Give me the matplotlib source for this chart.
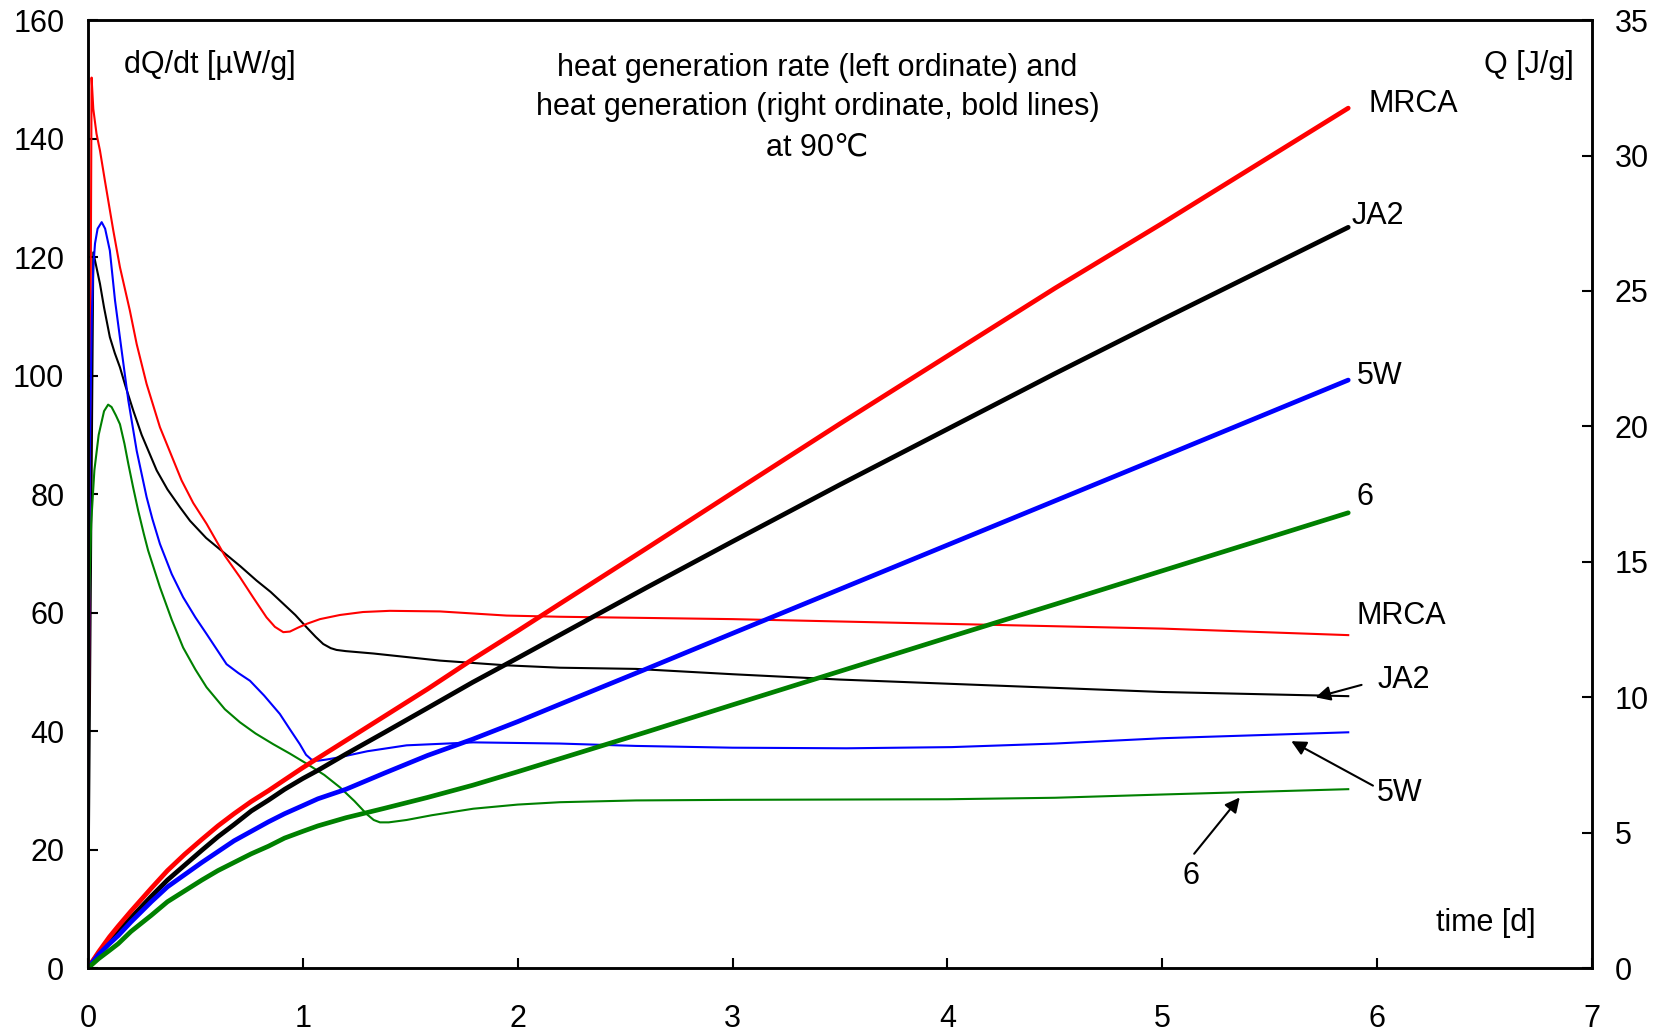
import matplotlib
matplotlib.use("Agg")
import matplotlib.pyplot as plt

plt.rcParams["font.family"] = ["Liberation Sans", "DejaVu Sans"]

# heat generation rate dQ/dt [uW/g] (thin lines, left axis)
t_mrca_rate = [0, 0.017, 0.025, 0.04, 0.056, 0.079, 0.118, 0.149, 0.195, 0.227, 0.273,
               0.335, 0.436, 0.49, 0.552, 0.637, 0.707, 0.77, 0.831, 0.87, 0.909,
               0.94, 0.98, 1.018, 1.08, 1.173, 1.28, 1.405, 1.638, 1.948, 2.196,
               3.0, 4.0, 5.0, 5.865]
mrca_rate = [0, 150.3, 145.0, 140.8, 138.0, 132.9, 124.5, 118.3, 111.0, 105.3, 98.6,
             91.3, 82.3, 78.5, 75.0, 69.6, 66.0, 62.5, 59.2, 57.6, 56.7,
             56.8, 57.5, 58.1, 58.9, 59.6, 60.1, 60.3, 60.2, 59.5, 59.3,
             58.9, 58.1, 57.3, 56.2]

t_ja2_rate = [0, 0.025, 0.056, 0.075, 0.102, 0.125, 0.149, 0.175, 0.211, 0.25, 0.32,
              0.37, 0.428, 0.475, 0.55, 0.63, 0.71, 0.785, 0.85, 0.909, 0.965,
              1.018, 1.06, 1.095, 1.13, 1.157, 1.2, 1.328, 1.638, 1.948, 2.196,
              2.55, 3.0, 3.5, 4.0, 4.5, 5.0, 5.865]
ja2_rate = [0, 120.8, 115.5, 111.5, 106.5, 103.8, 101.4, 98.2, 94.1, 90.0, 84.0,
            80.8, 77.8, 75.5, 72.6, 70.2, 67.8, 65.4, 63.5, 61.5, 59.6,
            57.5, 55.9, 54.7, 54.0, 53.7, 53.5, 53.1, 51.9, 51.1, 50.7,
            50.5, 49.6, 48.7, 48.0, 47.3, 46.6, 45.9]

t_5w_rate = [0, 0.009, 0.018, 0.025, 0.033, 0.045, 0.064, 0.08, 0.102, 0.126, 0.157,
             0.188, 0.227, 0.273, 0.3, 0.335, 0.39, 0.443, 0.5, 0.552, 0.645,
             0.7, 0.754, 0.82, 0.893, 0.94, 0.986, 1.015, 1.04, 1.07, 1.11,
             1.173, 1.3, 1.483, 1.793, 2.196, 2.55, 3.0, 3.53, 4.02, 4.5,
             5.0, 5.865]
w5_rate = [0, 87.0, 110.0, 118.3, 122.3, 124.8, 125.9, 124.8, 121.1, 112.7, 104.2,
           95.8, 87.3, 79.5, 75.8, 71.6, 66.5, 62.6, 59.2, 56.4, 51.3,
           49.8, 48.5, 46.0, 42.9, 40.3, 37.8, 36.0, 35.2, 35.0, 35.2,
           35.6, 36.6, 37.6, 38.1, 37.9, 37.5, 37.2, 37.1, 37.3, 37.9,
           38.8, 39.8]

t_6_rate = [0, 0.004, 0.015, 0.03, 0.05, 0.075, 0.094, 0.11, 0.13, 0.149, 0.17,
            0.188, 0.21, 0.234, 0.26, 0.28, 0.335, 0.39, 0.443, 0.5, 0.552,
            0.637, 0.707, 0.78, 0.862, 0.94, 1.018, 1.1, 1.173, 1.24, 1.297,
            1.33, 1.359, 1.4, 1.483, 1.6, 1.793, 2.0, 2.196, 2.55, 3.0,
            4.0, 4.5, 5.0, 5.865]
s6_rate = [0, 60.0, 75.0, 84.0, 90.0, 94.0, 95.1, 94.7, 93.3, 91.8, 88.5,
           85.1, 81.2, 77.2, 73.3, 70.5, 64.3, 58.8, 54.1, 50.4, 47.4,
           43.7, 41.5, 39.6, 37.8, 36.2, 34.5, 32.6, 30.5, 28.2, 26.0,
           25.0, 24.6, 24.6, 25.0, 25.8, 26.9, 27.6, 28.0, 28.3, 28.4,
           28.5, 28.75, 29.3, 30.2]

# cumulative heat generation Q [J/g] (bold lines, right axis)
t_heat = [0, 0.05, 0.1, 0.141, 0.2, 0.295, 0.37, 0.45, 0.53, 0.605, 0.68,
          0.76, 0.84, 0.915, 1.0, 1.07, 1.2, 1.38, 1.58, 1.79, 2.0,
          2.196, 2.6, 3.0, 3.5, 4.0, 4.5, 5.0, 5.865]
mrca_heat = [0, 0.6, 1.15, 1.55, 2.1, 2.95, 3.6, 4.2, 4.75, 5.25, 5.7,
             6.15, 6.55, 6.95, 7.4, 7.75, 8.4, 9.3, 10.3, 11.4, 12.45,
             13.45, 15.5, 17.55, 20.1, 22.6, 25.1, 27.5, 31.75]
ja2_heat = [0, 0.55, 1.0, 1.35, 1.85, 2.65, 3.25, 3.8, 4.35, 4.85, 5.3,
            5.8, 6.2, 6.6, 7.0, 7.3, 7.9, 8.7, 9.6, 10.55, 11.45,
            12.3, 14.05, 15.75, 17.85, 19.9, 21.95, 23.95, 27.35]
w5_heat = [0, 0.5, 0.9, 1.2, 1.7, 2.45, 3.0, 3.45, 3.9, 4.3, 4.7,
           5.05, 5.4, 5.7, 6.0, 6.25, 6.6, 7.2, 7.85, 8.45, 9.1,
           9.74, 11.05, 12.36, 13.99, 15.62, 17.25, 18.88, 21.71]
s6_heat = [0, 0.35, 0.65, 0.9, 1.35, 1.95, 2.45, 2.85, 3.25, 3.6, 3.9,
           4.22, 4.5, 4.8, 5.05, 5.25, 5.55, 5.9, 6.3, 6.75, 7.25,
           7.73, 8.72, 9.72, 10.96, 12.2, 13.43, 14.67, 16.81]

RED, BLACK, BLUE, GREEN = "#ff0000", "#000000", "#0000ff", "#008000"
FS = 22

fig = plt.figure(figsize=(16.59, 10.31), dpi=100)
ax = fig.add_axes([0.053, 0.061, 0.9067, 0.9195])
ax2 = ax.twinx()

ax.plot(t_ja2_rate, ja2_rate, color=BLACK, lw=1.5)
ax.plot(t_mrca_rate, mrca_rate, color=RED, lw=1.5)
ax.plot(t_5w_rate, w5_rate, color=BLUE, lw=1.5)
ax.plot(t_6_rate, s6_rate, color=GREEN, lw=1.5)

ax2.plot(t_heat, ja2_heat, color=BLACK, lw=3.4, solid_capstyle="round")
ax2.plot(t_heat, mrca_heat, color=RED, lw=3.4, solid_capstyle="round")
ax2.plot(t_heat, w5_heat, color=BLUE, lw=3.4, solid_capstyle="round")
ax2.plot(t_heat, s6_heat, color=GREEN, lw=3.4, solid_capstyle="round")

ax.set_xlim(0, 7)
ax.set_ylim(0, 160)
ax2.set_ylim(0, 35)
ax.set_xticks(range(0, 8))
ax.set_yticks(range(0, 161, 20))
ax2.set_yticks(range(0, 36, 5))

for a in (ax, ax2):
    for sp in a.spines.values():
        sp.set_linewidth(1.8)
ax.tick_params(axis="y", direction="in", length=7, width=1.5, labelsize=FS, pad=17)
ax.tick_params(axis="x", direction="in", length=7, width=1.5, labelsize=FS, pad=26)
ax2.tick_params(axis="y", direction="in", length=7, width=1.5, labelsize=FS, pad=16)

# axis captions inside the frame
ax.text(0.0238, 0.953, "dQ/dt [µW/g]", transform=ax.transAxes, ha="left", va="center", fontsize=FS)
ax.text(0.988, 0.953, "Q [J/g]", transform=ax.transAxes, ha="right", va="center", fontsize=FS)
ax.text(0.929, 0.048, "time [d]", transform=ax.transAxes, ha="center", va="center", fontsize=FS)

title_lines = ["heat generation rate (left ordinate) and",
               "heat generation (right ordinate, bold lines)",
               "at 90℃"]
for i, line in enumerate(title_lines):
    ax.text(0.485, 0.950 - i * 0.042, line, transform=ax.transAxes,
            ha="center", va="center", fontsize=FS)

# labels of the bold (Q) lines
ax2.text(5.958, 31.9, "MRCA", ha="left", va="center", fontsize=FS)
ax2.text(5.88, 27.75, "JA2", ha="left", va="center", fontsize=FS)
ax2.text(5.904, 21.85, "5W", ha="left", va="center", fontsize=FS)
ax2.text(5.904, 17.4, "6", ha="left", va="center", fontsize=FS)

# labels of the thin (dQ/dt) lines, on the left scale
def to_q(v):
    return v * 35 / 160

ax2.text(5.904, to_q(59.5), "MRCA", ha="left", va="center", fontsize=FS)
arrow = dict(arrowstyle="-|>", color="black", lw=1.5, mutation_scale=22,
             shrinkA=0, shrinkB=0)
thin_labels = [("JA2", (6.0, 48.7), (5.927, 47.8), (5.713, 45.7), "left"),
               ("5W", (6.0, 29.6), (5.98, 30.8), (5.60, 38.3), "left"),
               ("6", (5.134, 15.5), (5.148, 19.3), (5.36, 28.8), "center")]
for name, pos, tail, head, ha in thin_labels:
    ax2.text(pos[0], to_q(pos[1]), name, ha=ha, va="center", fontsize=FS)
    ax2.annotate("", xy=(head[0], to_q(head[1])),
                 xytext=(tail[0], to_q(tail[1])), arrowprops=arrow)

fig.savefig("out.png", dpi=100)
